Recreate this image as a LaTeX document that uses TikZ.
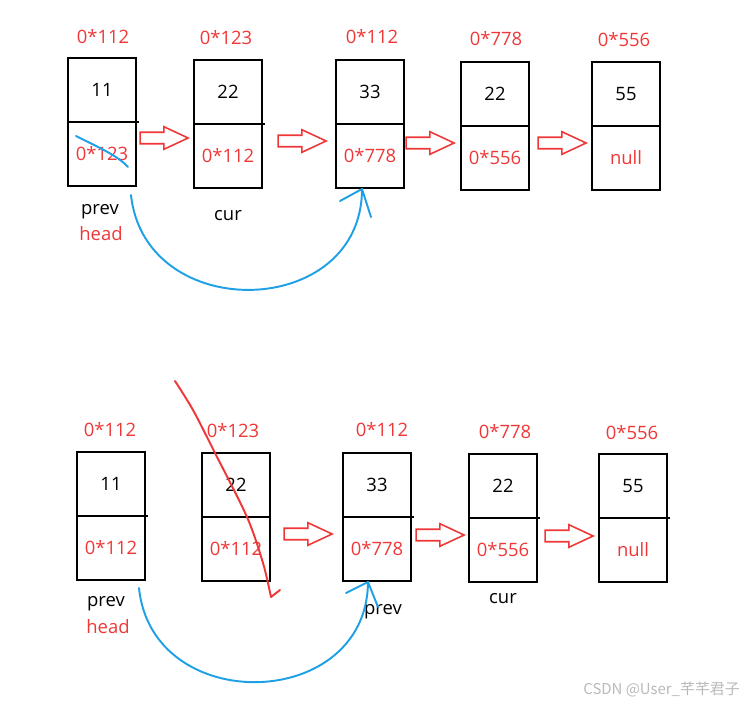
\documentclass[tikz,border=0pt]{standalone}
\usepackage{fontspec}
\setmainfont{Open Sans}
\newfontfamily\cjkfont{Noto Sans CJK SC}
\usetikzlibrary{shapes.arrows,positioning}
\definecolor{addrred}{RGB}{240,55,55}
\definecolor{penblue}{RGB}{30,160,230}
\definecolor{markgray}{RGB}{185,185,185}

\begin{document}
\begin{tikzpicture}[x=0.02cm, y=-0.02cm,
    cell/.style={rectangle, draw=black, line width=1.1pt, minimum width=1.36cm,
        minimum height=1.28cm, inner sep=0pt, outer sep=0pt,
        font=\fontsize{10.5}{12}\selectfont},
    addr/.style={text=addrred, font=\fontsize{10.5}{12}\selectfont},
    ptr/.style={font=\fontsize{10.5}{12}\selectfont},
    hollow/.style={single arrow, draw=addrred, line width=0.9pt, fill=white,
        minimum height=0.96cm, text height=0.2cm, text depth=0pt, text width=0pt,
        single arrow head extend=0.11cm, single arrow tip angle=50,
        single arrow head indent=0pt, inner sep=0pt, anchor=tip},
    pen/.style={penblue, line width=1.1pt, line cap=round, line join=round},
    redpen/.style={addrred, line width=1.1pt, line cap=round, line join=round}
]
    \useasboundingbox (0,0) rectangle (752,703);

    % first list
    \node[addr] (t1) at (103,37) {0*112};
    \node[addr] (t2) at (226,38) {0*123};
    \node[addr] (t3) at (372,37) {0*112};
    \node[addr] (t4) at (496,39) {0*778};
    \node[addr] (t5) at (624,40) {0*556};

    \node[cell] (a1) at (102,90) {11};
    \node[cell, text=addrred, below=0pt of a1] (a1n) {0*123};
    \node[cell] (a2) at (228,92) {22};
    \node[cell, text=addrred, below=0pt of a2] (a2n) {0*112};
    \node[cell] (a3) at (370,92) {33};
    \node[cell, text=addrred, below=0pt of a3] (a3n) {0*778};
    \node[cell] (a4) at (495,94) {22};
    \node[cell, text=addrred, below=0pt of a4] (a4n) {0*556};
    \node[cell] (a5) at (626,94) {55};
    \node[cell, text=addrred, below=0pt of a5] (a5n) {null};
    \draw[line width=1.1pt] (a1.south east) -- ++(3,0);
    \draw[line width=1.1pt] (a2.south east) -- ++(3,0);

    \node[hollow] (h12) at (190,138) {};
    \node[hollow] (h23) at (328,141) {};
    \node[hollow] (h34) at (456,143) {};
    \node[hollow] (h45) at (588,143) {};

    \node[ptr] (prevA) at (100,212) {prev};
    \node[addr] (headA) at (101,234) {head};
    \node[ptr] (curA) at (228,216) {cur};

    \draw[pen] (76,136) .. controls (100,148) and (118,156) .. (128,167);
    \coordinate (jumpA) at (131,195);
    \coordinate (landA) at (362,189);
    \draw[pen] (jumpA) .. controls (145,325) and (362,320) .. (landA);
    \draw[pen] (landA) -- (340,201);
    \draw[pen] (landA) -- (371,217);

    % second list
    \node[addr] (u1) at (110,430) {0*112};
    \node[addr] (u2) at (233,431) {0*123};
    \node[addr] (u3) at (382,430) {0*112};
    \node[addr] (u4) at (505,432) {0*778};
    \node[addr] (u5) at (632,433) {0*556};

    \node[cell] (b1) at (111,484) {11};
    \node[cell, text=addrred, below=0pt of b1] (b1n) {0*112};
    \node[cell] (b2) at (236,485) {22};
    \node[cell, text=addrred, below=0pt of b2] (b2n) {0*112};
    \node[cell] (b3) at (377,485) {33};
    \node[cell, text=addrred, below=0pt of b3] (b3n) {0*778};
    \node[cell] (b4) at (503,486) {22};
    \node[cell, text=addrred, below=0pt of b4] (b4n) {0*556};
    \node[cell] (b5) at (633,486) {55};
    \node[cell, text=addrred, below=0pt of b5] (b5n) {null};
    \draw[line width=1.1pt] (b1.south east) -- ++(3,0);
    \draw[line width=1.1pt] (b3.south east) -- ++(3,0);
    \draw[line width=1.1pt] (b4.south east) -- ++(3,0);
    \draw[line width=1.1pt] (b5.south east) -- ++(3,0);

    \node[hollow] (k23) at (334,534) {};
    \node[hollow] (k34) at (466,535) {};
    \node[hollow] (k45) at (595,536) {};

    \node[ptr] (prevB) at (106,604) {prev};
    \node[addr] (headB) at (108,627) {head};
    \node[ptr] (prevC) at (383,612) {prev};
    \node[ptr] (curB) at (503,599) {cur};

    \draw[redpen] plot[smooth] coordinates {(175,381) (193,410) (215,453)
        (247,517) (263,563) (271,597)} -- (280,590);
    \coordinate (jumpB) at (139,588);
    \coordinate (landB) at (368,582);
    \draw[pen] (jumpB) .. controls (152,717) and (367,712) .. (landB);
    \draw[pen] (landB) -- (346,593);
    \draw[pen] (landB) -- (378,607);

    \node[text=markgray, font=\cjkfont\fontsize{8.5}{10}\selectfont, anchor=east]
        (mark) at (746,690) {CSDN @User\_芊芊君子};
\end{tikzpicture}
\end{document}
